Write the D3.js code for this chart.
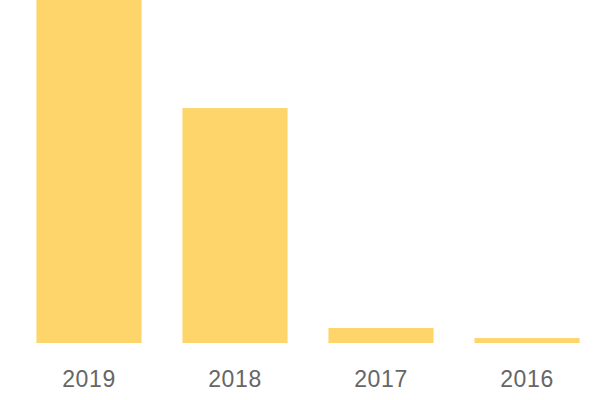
<!DOCTYPE html>
<html>
<head>
<meta charset="utf-8">
<script src="https://cdn.jsdelivr.net/npm/d3@7"></script>
<style>
	body { margin: 0; background: #fff; }
</style>
</head>
<body>
<svg id="chart"></svg>
<script>
var years = ["2019", "2018", "2017", "2016"];
var values = [146, 100, 6.4, 2.1];

var w = 600;
var h = 400;
var baseY = 343;

var svg = d3.select('#chart')
	.attr('width', w)
	.attr('height', h);

var x = d3.scaleBand()
	.domain(years)
	.range([16, 600])
	.paddingInner(0.28)
	.paddingOuter(0.14);

var y = d3.scaleLinear()
	.domain([0, d3.max(values)])
	.range([baseY, 0]);

var data = years.map(function(d, i) {
	return {year: d, value: values[i]};
});

svg.selectAll('rect')
	.data(data)
	.join('rect')
	.attr('x', function(d) { return x(d.year); })
	.attr('y', function(d) { return y(d.value); })
	.attr('width', x.bandwidth())
	.attr('height', function(d) { return baseY - y(d.value); })
	.attr('fill', '#fdd56a');

// category labels, no axis line
var axis = svg.append('g')
	.attr('transform', 'translate(0,' + baseY + ')')
	.call(d3.axisBottom(x).tickSize(0).tickPadding(28));
axis.select('.domain').remove();
axis.selectAll('text')
	.attr('font-family', 'Liberation Sans, Arial, sans-serif')
	.attr('font-size', '23px')
	.attr('letter-spacing', '0.6px')
	.attr('fill', '#666');
</script>
</body>
</html>
